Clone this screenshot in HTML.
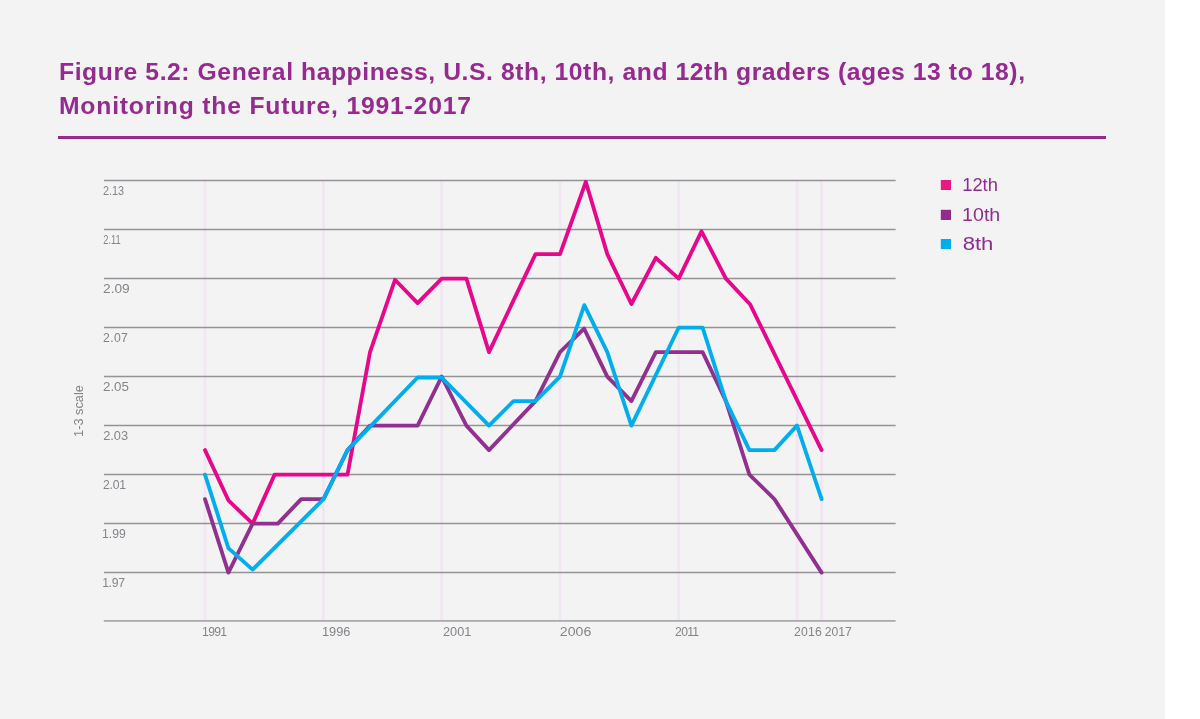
<!DOCTYPE html>
<html><head><meta charset="utf-8"><style>
html,body{margin:0;padding:0;background:#fff;}
body{width:1200px;height:719px;overflow:hidden;position:relative;font-family:"Liberation Sans",sans-serif;}
#bg{position:absolute;left:0;top:0;width:1165px;height:719px;background:#f3f3f3;}
.tl{will-change:transform;position:absolute;left:59px;color:#962a91;font-weight:bold;font-size:24.7px;line-height:30px;white-space:nowrap;}
#rule{position:absolute;left:58px;top:136px;width:1048px;height:3px;background:#962a91;}
svg{position:absolute;left:0;top:0;font-family:"Liberation Sans",sans-serif;will-change:transform;}
</style></head><body>
<div id="bg"></div>
<div class="tl" style="top:57px;letter-spacing:0.575px">Figure 5.2: General happiness, U.S. 8th, 10th, and 12th graders (ages 13 to 18),</div>
<div class="tl" style="top:91px;letter-spacing:0.81px">Monitoring the Future, 1991-2017</div>
<div id="rule"></div>
<svg width="1200" height="719" viewBox="0 0 1200 719">
<line x1="205.0" x2="205.0" y1="181" y2="620" stroke="#f1e6f1" stroke-width="2.8"/>
<line x1="323.5" x2="323.5" y1="181" y2="620" stroke="#f1e6f1" stroke-width="2.8"/>
<line x1="441.7" x2="441.7" y1="181" y2="620" stroke="#f1e6f1" stroke-width="2.8"/>
<line x1="560.0" x2="560.0" y1="181" y2="620" stroke="#f1e6f1" stroke-width="2.8"/>
<line x1="678.7" x2="678.7" y1="181" y2="620" stroke="#f1e6f1" stroke-width="2.8"/>
<line x1="797.2" x2="797.2" y1="181" y2="620" stroke="#f1e6f1" stroke-width="2.8"/>
<line x1="821.6" x2="821.6" y1="181" y2="620" stroke="#f1e6f1" stroke-width="2.8"/>
<line x1="104" x2="895.6" y1="180.4" y2="180.4" stroke="#929297" stroke-width="1.45"/>
<line x1="104" x2="895.6" y1="229.4" y2="229.4" stroke="#929297" stroke-width="1.45"/>
<line x1="104" x2="895.6" y1="278.4" y2="278.4" stroke="#929297" stroke-width="1.45"/>
<line x1="104" x2="895.6" y1="327.4" y2="327.4" stroke="#929297" stroke-width="1.45"/>
<line x1="104" x2="895.6" y1="376.4" y2="376.4" stroke="#929297" stroke-width="1.45"/>
<line x1="104" x2="895.6" y1="425.4" y2="425.4" stroke="#929297" stroke-width="1.45"/>
<line x1="104" x2="895.6" y1="474.4" y2="474.4" stroke="#929297" stroke-width="1.45"/>
<line x1="104" x2="895.6" y1="523.4" y2="523.4" stroke="#929297" stroke-width="1.45"/>
<line x1="104" x2="895.6" y1="572.4" y2="572.4" stroke="#929297" stroke-width="1.45"/>
<line x1="103.8" x2="895.6" y1="620.85" y2="620.85" stroke="#a8a9ad" stroke-width="1.8"/>
<text x="102.98" y="195.10" textLength="21.10" lengthAdjust="spacingAndGlyphs" style="font-size:12.20px;fill:#838489">2.13</text>
<text x="103.34" y="244.10" textLength="17.43" lengthAdjust="spacingAndGlyphs" style="font-size:12.20px;fill:#838489">2.11</text>
<text x="103.04" y="293.10" textLength="26.68" lengthAdjust="spacingAndGlyphs" style="font-size:12.20px;fill:#838489">2.09</text>
<text x="103.08" y="342.10" textLength="24.70" lengthAdjust="spacing" style="font-size:12.20px;fill:#838489">2.07</text>
<text x="102.98" y="391.10" textLength="25.99" lengthAdjust="spacingAndGlyphs" style="font-size:12.20px;fill:#838489">2.05</text>
<text x="103.15" y="440.10" textLength="24.90" lengthAdjust="spacingAndGlyphs" style="font-size:12.20px;fill:#838489">2.03</text>
<text x="102.88" y="489.10" textLength="23.26" lengthAdjust="spacing" style="font-size:12.20px;fill:#838489">2.01</text>
<text x="102.07" y="538.10" textLength="23.61" lengthAdjust="spacing" style="font-size:12.20px;fill:#838489">1.99</text>
<text x="102.13" y="587.10" textLength="22.78" lengthAdjust="spacing" style="font-size:12.20px;fill:#838489">1.97</text>
<text x="202.12" y="636.00" textLength="24.94" lengthAdjust="spacing" style="font-size:12.20px;fill:#838489">1991</text>
<text x="321.94" y="636.00" textLength="28.45" lengthAdjust="spacingAndGlyphs" style="font-size:12.20px;fill:#838489">1996</text>
<text x="443.05" y="636.00" textLength="28.31" lengthAdjust="spacingAndGlyphs" style="font-size:12.20px;fill:#838489">2001</text>
<text x="559.78" y="636.00" textLength="31.51" lengthAdjust="spacingAndGlyphs" style="font-size:12.20px;fill:#838489">2006</text>
<text x="675.08" y="636.00" textLength="24.02" lengthAdjust="spacing" style="font-size:12.20px;fill:#838489">2011</text>
<text x="793.88" y="636.00" textLength="27.98" lengthAdjust="spacing" style="font-size:12.20px;fill:#838489">2016</text>
<text x="824.84" y="636.00" textLength="26.83" lengthAdjust="spacing" style="font-size:12.20px;fill:#838489">2017</text>
<text x="962.18" y="190.75" textLength="35.76" lengthAdjust="spacingAndGlyphs" style="font-size:18.00px;fill:#8e2d92">12th</text>
<text x="962.12" y="220.90" textLength="38.12" lengthAdjust="spacingAndGlyphs" style="font-size:18.00px;fill:#8e2d92">10th</text>
<text x="962.71" y="250.00" textLength="30.68" lengthAdjust="spacingAndGlyphs" style="font-size:18.00px;fill:#8e2d92">8th</text>
<text transform="translate(82.60,436.88) rotate(-90)" x="0" y="0" textLength="51.78" lengthAdjust="spacingAndGlyphs" style="font-size:12.60px;fill:#838489">1-3 scale</text>
<g fill="none" stroke-width="3.8" stroke-linejoin="round" stroke-linecap="round">
<polyline points="205.0,450.1 228.4,500.3 252.6,523.6 274.6,474.6 301.2,474.6 323.5,474.6 347.5,474.6 370.0,352.1 395.0,279.8 417.6,303.1 441.7,278.6 466.4,278.6 489.0,352.1 535.5,254.1 560.0,254.1 585.8,181.8 607.3,254.1 631.4,304.0 655.8,257.8 678.7,278.6 701.5,231.3 725.9,278.6 750.0,304.2 821.6,450.1" stroke="#e8068a"/>
<polyline points="205.0,499.1 228.4,572.6 252.6,523.6 277.8,523.6 301.2,499.1 323.5,499.1 347.5,450.1 370.0,425.6 395.0,425.6 417.6,425.6 441.7,376.6 466.4,425.6 489.0,450.1 535.5,401.1 560.0,352.1 584.1,328.6 607.3,376.6 631.4,401.1 655.8,352.1 678.7,352.1 702.6,352.1 725.9,401.1 749.4,474.6 774.4,499.1 821.6,572.6" stroke="#91308f"/>
<polyline points="205.0,474.6 228.4,548.1 252.6,569.6 323.5,499.1 347.5,450.1 417.6,377.5 441.7,377.5 489.0,425.6 513.5,401.1 535.5,401.1 560.0,376.6 584.3,305.1 607.3,352.1 631.4,425.6 678.7,327.6 702.6,327.6 725.9,401.1 749.4,450.1 774.4,450.1 797.0,425.6 821.6,499.1" stroke="#00adee"/>
</g>
<rect x="940.8" y="180" width="10.2" height="10" fill="#ec1783"/>
<rect x="940.8" y="209.8" width="10.2" height="10.2" fill="#912b8e"/>
<rect x="940.8" y="239" width="10.2" height="10" fill="#00adef"/>
</svg>
</body></html>
